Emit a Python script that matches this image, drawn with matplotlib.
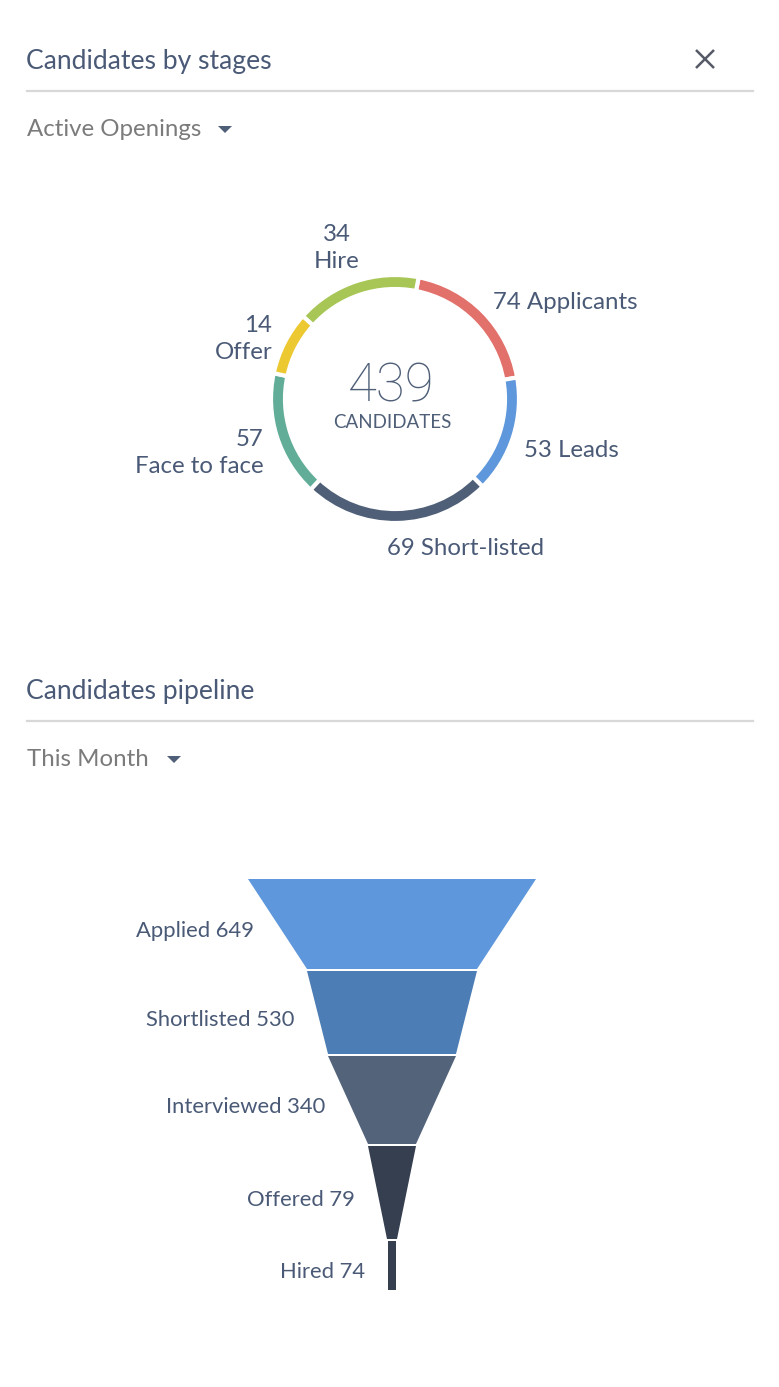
import numpy as np
import matplotlib
matplotlib.use("Agg")
import matplotlib.pyplot as plt

plt.rcParams["font.family"] = ["Lato", "DejaVu Sans"]

W, H = 779, 1387

# donut: stage counts and the arc share (degrees) each slice takes on screen
stage_names = ["Applicants", "Leads", "Short-listed", "Face to face", "Offer", "Hire"]
stage_counts = [74, 53, 69, 57, 14, 34]
stage_arc_deg = [69, 55, 88, 59, 30, 59]
stage_colors = ["#e2706b", "#5e97db", "#4f5f78", "#62ad98", "#ecc831", "#a7c655"]
total_candidates = 439

# funnel
funnel_names = ["Applied", "Shortlisted", "Interviewed", "Offered", "Hired"]
funnel_values = [649, 530, 340, 79, 74]
funnel_colors = ["#5e97db", "#4d7db5", "#52637a", "#353f50", "#353f50"]
# widths of segment edges (top of first .. bottom of last) and heights
funnel_edge_widths = [288, 170, 128, 48, 10]
funnel_heights = [92, 85, 90, 95]
neck_width, neck_height = 8, 50

TITLE_C = "#4a5a76"
GREY_C = "#7b7b7b"


def Y(p):
    # top-down pixel row -> axes y
    return H - p


fig = plt.figure(figsize=(W / 100, H / 100), dpi=100)
ax = fig.add_axes([0, 0, 1, 1])
ax.set_xlim(0, W)
ax.set_ylim(0, H)
ax.set_aspect("equal")
ax.axis("off")

# ---- header blocks
def header(title, sub, y_title, y_line, y_sub, tri_x):
    ax.text(26, Y(y_title), title, fontsize=19.1, color=TITLE_C, va="baseline")
    ax.plot([27, 753], [Y(y_line), Y(y_line)], color="#d8d8d8", lw=1.6)
    ax.text(27, Y(y_sub), sub, fontsize=17.3, color=GREY_C, va="baseline")
    ax.fill([tri_x, tri_x + 14, tri_x + 7], [Y(y_sub - 10), Y(y_sub - 10), Y(y_sub - 3)],
            color="#4f5f78", lw=0)


header("Candidates by stages", "Active Openings", 69, 91, 136, 218)
header("Candidates pipeline", "This Month", 699, 721, 766, 167)

# close icon
ax.plot([696, 714], [Y(50), Y(68)], color="#555a66", lw=1.8, solid_capstyle="butt")
ax.plot([696, 714], [Y(68), Y(50)], color="#555a66", lw=1.8, solid_capstyle="butt")

# ---- donut
cx, cy, r_out, ring = 395, Y(399), 124, 14
start = 90 - 11
ax.pie(stage_arc_deg, colors=stage_colors, startangle=start, counterclock=False,
       radius=r_out, center=(cx, cy), normalize=True,
       wedgeprops=dict(width=ring, edgecolor="white", linewidth=3))
ax.set_xlim(0, W)
ax.set_ylim(0, H)

ax.text(cx - 4, Y(401), str(total_candidates), fontsize=38, color="#4f5f78",
        ha="center", va="baseline", family=["Roboto", "Lato"], fontweight="light")
ax.text(cx - 3, Y(428), "CANDIDATES", fontsize=13.5, color="#4f5f78",
        ha="center", va="baseline")

# labels placed around the mid-angle of each arc
edges = start - np.cumsum([0] + stage_arc_deg)
for name, cnt, a0, a1 in zip(stage_names, stage_counts, edges[:-1], edges[1:]):
    mid = np.deg2rad((a0 + a1) / 2)
    c, s = np.cos(mid), np.sin(mid)
    lx = cx + 140 * c
    ly = cy + 140 * s
    if c > 0.2 and s > 0.3:
        ax.text(lx - 2, ly - 2, f"{cnt} {name}", fontsize=17.3, color=TITLE_C,
                ha="left", va="center")
    elif c > 0.2:
        ax.text(lx - 5, ly - 9, f"{cnt} {name}", fontsize=17.3, color=TITLE_C,
                ha="left", va="center")
    elif c > -0.05:
        ax.text(lx - 10, ly + 1, f"{cnt} {name}", fontsize=17.3, color=TITLE_C,
                ha="left", va="top")
    elif s > 0.8 or c > -0.4:
        ax.text(lx - 14, ly - 6, f"{cnt}\n{name}", fontsize=17.3, color=TITLE_C,
                ha="center", va="bottom", multialignment="center", linespacing=1.35)
    elif s > 0:
        ax.text(lx + 2, ly - 4, f"{cnt}\n{name}", fontsize=17.3, color=TITLE_C,
                ha="right", va="center", multialignment="right", linespacing=1.35)
    else:
        ax.text(lx + 2, ly - 12, f"{cnt}\n{name}", fontsize=17.3, color=TITLE_C,
                ha="right", va="center", multialignment="right", linespacing=1.35)

# ---- funnel
fx, top = 392, 878
y = top
for i, (name, val, col) in enumerate(zip(funnel_names[:-1], funnel_values[:-1], funnel_colors[:-1])):
    w0, w1 = funnel_edge_widths[i], funnel_edge_widths[i + 1]
    h = funnel_heights[i]
    xs = [fx - w0 / 2, fx + w0 / 2, fx + w1 / 2, fx - w1 / 2]
    ys = [Y(y + 1), Y(y + 1), Y(y + h - 1), Y(y + h - 1)]
    ax.fill(xs, ys, color=col, lw=0)
    left_mid = fx - (w0 + w1) / 4
    ax.text(left_mid - 23, Y(y + h / 2 + 13), f"{name} {val}", fontsize=15.8,
            color=TITLE_C, ha="right", va="baseline")
    y += h

ax.fill([fx - neck_width / 2, fx + neck_width / 2, fx + neck_width / 2, fx - neck_width / 2],
        [Y(y + 1), Y(y + 1), Y(y + neck_height), Y(y + neck_height)],
        color=funnel_colors[-1], lw=0)
ax.text(fx - neck_width / 2 - 23, Y(y + neck_height / 2 + 13),
        f"{funnel_names[-1]} {funnel_values[-1]}", fontsize=15.8,
        color=TITLE_C, ha="right", va="baseline")

fig.savefig("out.png", dpi=100, facecolor="white")
